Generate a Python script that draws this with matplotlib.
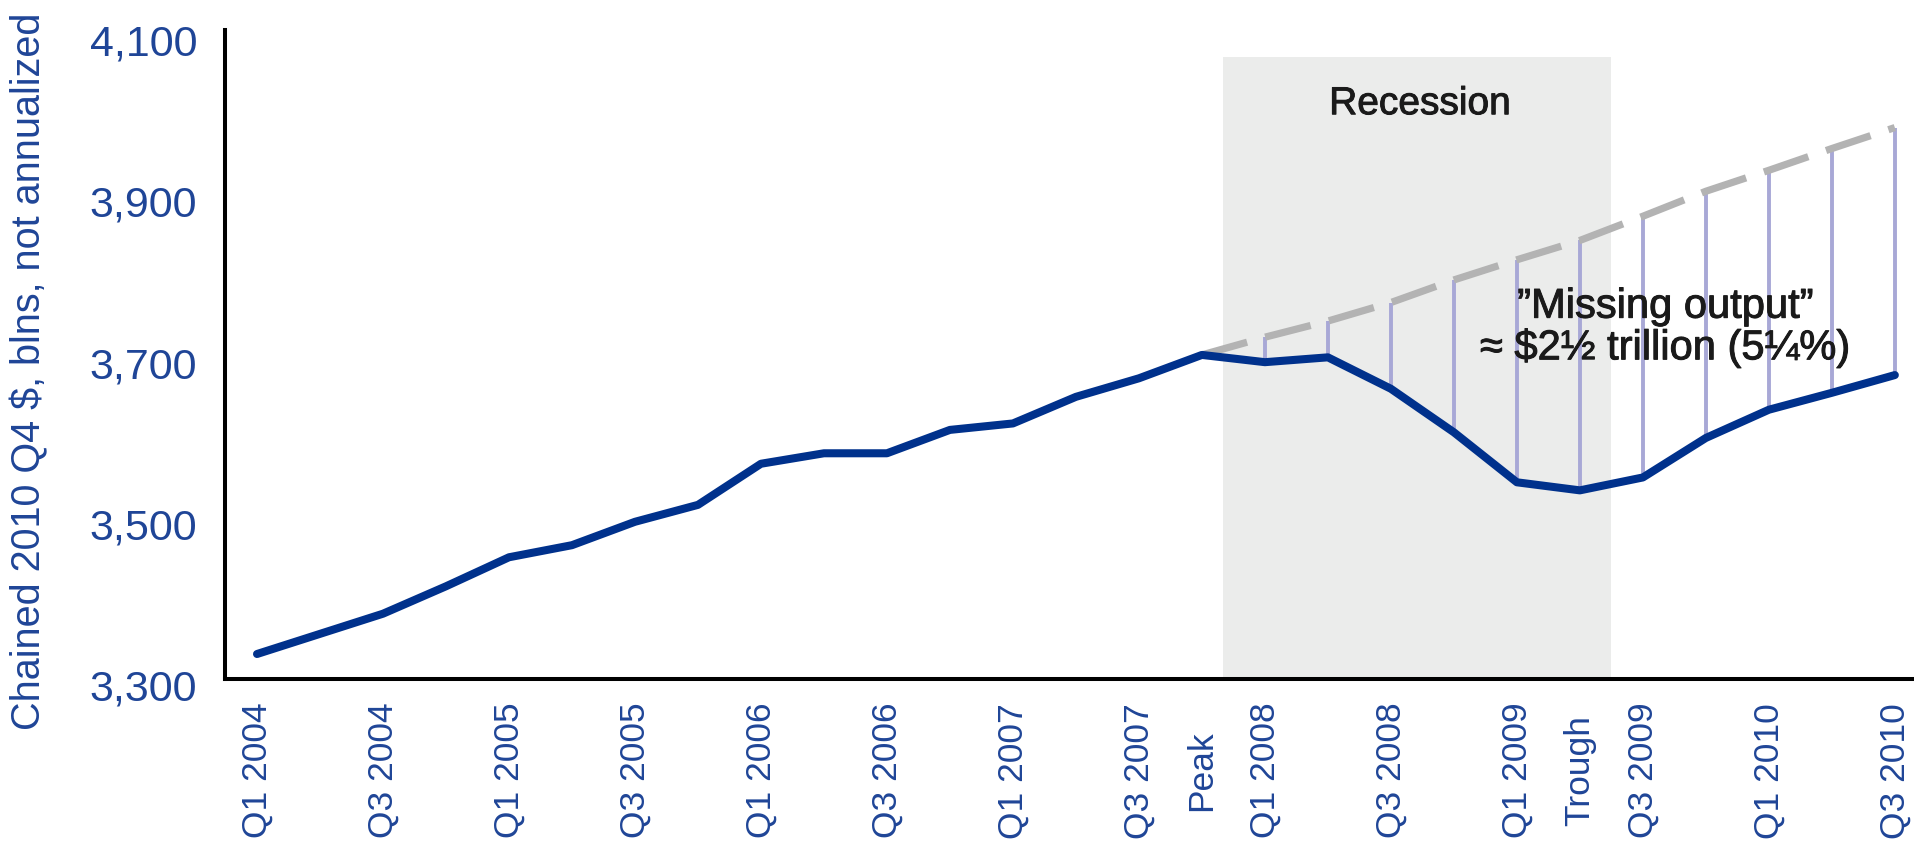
import matplotlib.pyplot as plt
import matplotlib.patheffects as pe
from matplotlib.transforms import ScaledTranslation

plt.rcParams['font.family'] = ['Liberation Sans', 'DejaVu Sans']

# quarterly real output, Q1 2004 .. Q3 2010
quarters = [f"Q{q} {y}" for y in range(2004, 2011) for q in range(1, 5)][:27]
gdp = [3331, 3356, 3381, 3415, 3451, 3466, 3495, 3516, 3567, 3580, 3580,
       3609, 3617, 3650, 3673, 3702, 3693, 3699, 3660, 3606, 3544, 3534,
       3550, 3599, 3634, 3655, 3677]

# pre-recession trend, from the peak onwards
peak_q = "Q4 2007"
trough_q = "Q2 2009"
trend = [3702, 3724, 3744, 3767, 3795, 3820, 3844, 3874, 3905, 3931, 3958, 3984]

# recession (Dec 2007 - Jun 2009) in quarter-index units
recession = (15.33, 21.5)

yticks = [3300, 3500, 3700, 3900, 4100]

navy = '#00318c'
label_blue = '#1f4597'
bold = [pe.withStroke(linewidth=0.7, foreground='#1a1a1a')]

fig = plt.figure(figsize=(19.15, 8.46), dpi=100)
ax = fig.add_axes([0.1175, 0.1974, 0.8825, 0.7671])

x = list(range(len(quarters)))
ip = quarters.index(peak_q)
xt = x[ip:]

ax.fill_between(recession, 3300, 4071, color='#ebeceb', lw=0, zorder=0)
ax.vlines(xt[1:], gdp[ip + 1:], trend[1:], color='#a8a8d6', lw=2.8, zorder=1)
ax.plot(xt, trend, color='#b3b3b3', lw=5.2, dashes=(6.5, 2.6), zorder=2)
ax.plot(x, gdp, color=navy, lw=5.8, solid_joinstyle='round',
        solid_capstyle='round', zorder=3)

ax.text(18.46, 4013, "Recession", ha='center', va='center', fontsize=28,
        color='#1a1a1a', path_effects=bold)
ax.text(22.35, 3736, "\u201dMissing output\u201d\n\u2248 $2\u00bd trillion (5\u00bc%)",
        ha='center', va='center', fontsize=30, color='#1a1a1a', linespacing=1.02,
        zorder=4, path_effects=bold)

# tick labels: Q1/Q3 every year, plus peak and trough
tick_pos, tick_lab = [], []
for i, q in enumerate(quarters):
    if q == peak_q:
        tick_pos.append(i); tick_lab.append("Peak")
    elif q == trough_q:
        tick_pos.append(i); tick_lab.append("Trough")
    elif q.startswith("Q1") or q.startswith("Q3"):
        tick_pos.append(i); tick_lab.append(q)
ax.set_xticks(tick_pos, tick_lab, rotation=90, va='center', ha='center')
ax.set_yticks(yticks, [f"{v:,}" for v in yticks])
ax.tick_params(axis='x', length=0, pad=66, labelsize=25.5, labelcolor=label_blue)
ax.tick_params(axis='y', length=0, pad=20, labelsize=31, labelcolor=label_blue)
for lbl in ax.get_yticklabels():
    lbl.set_transform(lbl.get_transform() + ScaledTranslation(0, -0.06, fig.dpi_scale_trans))

ax.set_xlim(-0.508, 26.32)
ax.set_ylim(3300, 4105)
for s in ['top', 'right']:
    ax.spines[s].set_visible(False)
for s in ['left', 'bottom']:
    ax.spines[s].set_linewidth(2.9)
    ax.spines[s].set_color('black')

fig.text(29 / 1915, 1 - 371 / 846, "Chained 2010 Q4 $, blns, not annualized",
         rotation=90, ha='center', va='center', fontsize=28.5, color=label_blue)

fig.savefig("out.png", dpi=100)
